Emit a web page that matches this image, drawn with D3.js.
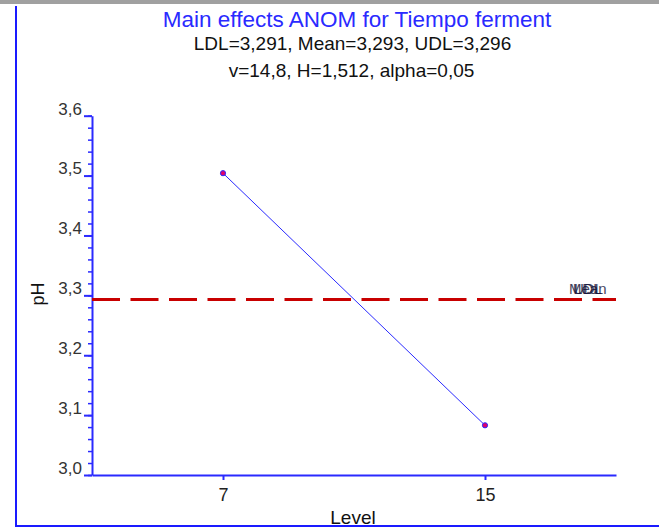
<!DOCTYPE html>
<html>
<head>
<meta charset="utf-8">
<script src="https://cdn.jsdelivr.net/npm/d3@7"></script>
<style>
  body { margin: 0; background: #fff; }
  svg { display: block; font-family: "Liberation Sans", Arial, sans-serif; }
</style>
</head>
<body>
<div id="chart"></div>
<script>
// data
const levels = ["7", "15"];
const means = [3.504, 3.083];
const limits = [
  {name: "Mean", value: 3.293, dx: 569},
  {name: "UDL", value: 3.296, dx: 573},
  {name: "LDL", value: 3.291, dx: 574}
];
const titleLines = [
  "Main effects ANOM for Tiempo ferment",
  "LDL=3,291, Mean=3,293, UDL=3,296",
  "v=14,8, H=1,512, alpha=0,05"
];

const W = 659, H = 528;
const m = {left: 92, right: 616, top: 115.7, bottom: 475};
const blue = "#2a2aff";

const svg = d3.select("#chart").append("svg")
  .attr("width", W).attr("height", H);

// window frame
svg.append("rect").attr("x", 0).attr("y", 0).attr("width", W).attr("height", 4).attr("fill", "#a0a0a0");
svg.append("line").attr("x1", 16).attr("x2", 16).attr("y1", 6).attr("y2", 527)
  .attr("stroke", "#1a1aff").attr("stroke-width", 2);
svg.append("line").attr("x1", 15).attr("x2", W).attr("y1", 526).attr("y2", 526)
  .attr("stroke", "#1a1aff").attr("stroke-width", 2);

const x = d3.scalePoint().domain(levels).range([m.left, m.right]).padding(0.5);
const y = d3.scaleLinear().domain([3.0, 3.6]).range([m.bottom, m.top]);
const fmt = d => d3.format(".1f")(d).replace(".", ",");

// minor ticks on y
const yMinor = svg.append("g").attr("transform", `translate(${m.left},0)`)
  .call(d3.axisLeft(y).tickValues(d3.range(0, 31).map(i => 3 + i * 0.02)).tickSize(4).tickFormat(""));
yMinor.select(".domain").remove();
yMinor.selectAll("line").attr("stroke", blue).attr("stroke-width", 1.5);

const yAxis = svg.append("g").attr("transform", `translate(${m.left},0)`)
  .call(d3.axisLeft(y).tickValues(d3.range(0, 7).map(i => 3 + i * 0.1)).tickSize(8).tickSizeOuter(0).tickFormat(fmt));
yAxis.select(".domain").attr("stroke", blue).attr("stroke-width", 2);
yAxis.selectAll("line").attr("stroke", blue).attr("stroke-width", 2);
yAxis.selectAll("text").attr("font-size", 17).attr("fill", "#333").attr("dy", "-0.1em").attr("x", -10);

const xAxis = svg.append("g").attr("transform", `translate(0,${m.bottom})`)
  .call(d3.axisBottom(x).tickSize(5).tickSizeOuter(0));
xAxis.select(".domain").attr("stroke", blue).attr("stroke-width", 2);
xAxis.selectAll("line").attr("stroke", blue).attr("stroke-width", 2);
xAxis.selectAll("text").attr("font-size", 18).attr("fill", "#222").attr("y", 26).attr("dy", 0);

// decision limits (coincide, so one dashed line)
svg.selectAll(".limit").data(limits.slice(0, 1)).join("line")
  .attr("x1", m.left).attr("x2", m.right)
  .attr("y1", d => y(d.value)).attr("y2", d => y(d.value))
  .attr("stroke", "#c80000").attr("stroke-width", 3).attr("stroke-dasharray", "28,10.5");
svg.selectAll(".limlab").data(limits).join("text")
  .attr("x", d => d.dx).attr("y", 294)
  .attr("font-size", 15).attr("fill", "#14143a").attr("opacity", 0.8)
  .text(d => d.name);

// means line and points
const pts = levels.map((l, i) => [x(l), y(means[i])]);
svg.append("path").attr("d", d3.line()(pts))
  .attr("fill", "none").attr("stroke", blue).attr("stroke-width", 1);
svg.selectAll(".pt").data(pts).join("circle")
  .attr("cx", d => d[0]).attr("cy", d => d[1]).attr("r", 2.6)
  .attr("fill", "#e0006a").attr("stroke", blue).attr("stroke-width", 1);

// titles
svg.append("text").attr("x", 357).attr("y", 27).attr("text-anchor", "middle")
  .attr("font-size", 22.5).attr("fill", blue).text(titleLines[0]);
svg.append("text").attr("x", 352.5).attr("y", 50).attr("text-anchor", "middle")
  .attr("font-size", 19).attr("fill", "#111").text(titleLines[1]);
svg.append("text").attr("x", 351.5).attr("y", 77).attr("text-anchor", "middle")
  .attr("font-size", 19).attr("fill", "#111").text(titleLines[2]);

svg.append("text").attr("transform", "translate(44,294) rotate(-90)").attr("text-anchor", "middle")
  .attr("font-size", 18).attr("fill", "#111").text("pH");
svg.append("text").attr("x", 353).attr("y", 524).attr("text-anchor", "middle")
  .attr("font-size", 19).attr("fill", "#111").text("Level");
</script>
</body>
</html>
